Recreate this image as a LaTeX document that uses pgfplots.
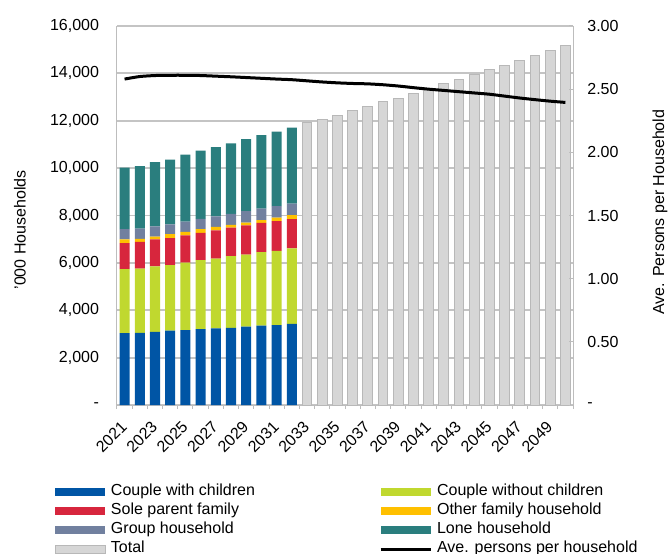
\documentclass[border=0pt]{standalone}
\usepackage{pgfplots}
\pgfplotsset{compat=1.18}
\usepackage{pgfplotstable}
\usepackage{fontspec}
\setmainfont{Liberation Sans}

\definecolor{cCwc}{HTML}{0055A5}
\definecolor{cCwo}{HTML}{C0D82F}
\definecolor{cSole}{HTML}{D7263D}
\definecolor{cOther}{HTML}{FFC000}
\definecolor{cGroup}{HTML}{71809F}
\definecolor{cLone}{HTML}{2A7E7E}
\definecolor{cTotal}{HTML}{D6D6D6}
\definecolor{cTotalEdge}{HTML}{B8B8B8}
\definecolor{cGrid}{HTML}{C4C4C4}
\definecolor{cAxis}{HTML}{BDBDBD}

% Households by type ('000), 2021 = 0
\pgfplotstableread{
x  cwc   cwo   sole  other group lone
0  3030  2710  1090  160   440   2590
1  3040  2720  1130  120   440   2630
2  3090  2760  1140  120   430   2710
3  3140  2770  1140  160   420   2730
4  3160  2850  1150  150   430   2830
5  3200  2920  1150  160   430   2880
6  3240  2940  1190  150   440   2930
7  3260  3030  1200  110   470   2980
8  3310  3040  1230  120   480   3040
9  3350  3100  1240  120   480   3100
10 3370  3140  1250  150   490   3140
11 3420  3190  1240  170   480   3210
}\households

% Projected total households ('000)
\pgfplotstableread{
x  total
12 11930
13 12040
14 12240
15 12430
16 12590
17 12800
18 12960
19 13140
20 13320
21 13570
22 13740
23 13960
24 14160
25 14320
26 14530
27 14750
28 14960
29 15190
}\totals

% Average persons per household
\pgfplotstableread{
x  ave
0  2.580
1  2.600
2  2.608
3  2.610
4  2.610
5  2.608
6  2.603
7  2.598
8  2.592
9  2.586
10 2.580
11 2.575
12 2.566
13 2.557
14 2.550
15 2.545
16 2.542
17 2.535
18 2.525
19 2.512
20 2.500
21 2.490
22 2.480
23 2.470
24 2.460
25 2.445
26 2.430
27 2.417
28 2.405
29 2.395
}\avepersons

\pgfplotsset{
  common/.style={
    scale only axis, width=342pt, height=284.25pt,
    xmin=-0.5, xmax=29.5,
    scaled y ticks=false,
    font=\fontsize{12}{14}\selectfont,
  },
}

\begin{document}
\begin{tikzpicture}
% stacked household types, left axis, legend
\begin{axis}[common,
  ybar stacked, bar width=0.66,
  ymin=0, ymax=16000,
  axis x line*=bottom, axis y line*=left,
  axis line style={cAxis, line width=0.75pt},
  xtick={0,2,...,28},
  xticklabels={2021,2023,2025,2027,2029,2031,2033,2035,2037,2039,2041,2043,2045,2047,2049},
  minor xtick={-0.5,0.5,...,29.5},
  major x tick style={draw=none},
  minor x tick style={cAxis, line width=0.75pt},
  minor tick length=3pt,
  xtick align=outside,
  xticklabel style={yshift=-7pt, xshift=-3.5pt, rotate=45, anchor=north east, inner sep=0pt},
  ytick={0,2000,...,16000},
  yticklabels={{-\hspace{7.5pt}},{2,000},{4,000},{6,000},{8,000},{10,000},{12,000},{14,000},{16,000}},
  ytick style={draw=none},
  yticklabel style={xshift=-10pt},
  ymajorgrids, grid style={cGrid, line width=1.4pt},
  ylabel={'000 Households},
  ylabel style={at={(rel axis cs:-0.2127,0.462)}, anchor=center},
  legend columns=2,
  legend cell align=left,
  legend image code/.code={\fill[#1] (0pt,-3pt) rectangle (37.5pt,3pt);},
  legend style={draw=none, fill=none, at={(-0.136,-0.2045)}, anchor=north west,
    inner sep=0pt, outer sep=0pt, row sep=0pt, column sep=3.75pt,
    /tikz/every even column/.append style={column sep=93pt},
    nodes={inner sep=0pt, text height=10pt, text depth=4.25pt}},
]
\addplot[fill=cCwc, draw=none] table[x=x, y=cwc]{\households};
\addlegendentry{Couple with children}
\addplot[fill=cCwo, draw=none] table[x=x, y=cwo]{\households};
\addlegendentry{Couple without children}
\addplot[fill=cSole, draw=none] table[x=x, y=sole]{\households};
\addlegendentry{Sole parent family}
\addplot[fill=cOther, draw=none] table[x=x, y=other]{\households};
\addlegendentry{Other family household}
\addplot[fill=cGroup, draw=none] table[x=x, y=group]{\households};
\addlegendentry{Group household}
\addplot[fill=cLone, draw=none] table[x=x, y=lone]{\households};
\addlegendentry{Lone household}
\addlegendimage{fill=cTotal, draw=cTotalEdge, line width=0.75pt}
\addlegendentry{Total}
\addlegendimage{legend image code/.code={\draw[black, line width=2.25pt] (0pt,0pt) -- (37.5pt,0pt);}}
\addlegendentry{Ave. persons per household}
\end{axis}

% projected totals
\begin{axis}[common, ybar, bar width=0.64, ymin=0, ymax=16000, hide axis]
\addplot[fill=cTotal, draw=cTotalEdge, line width=0.75pt] table[x=x, y=total]{\totals};
\end{axis}

% average persons per household, right axis
\begin{axis}[common,
  ymin=0, ymax=3,
  axis x line=none, axis y line*=right,
  axis line style={cAxis, line width=0.75pt},
  ytick={0,0.5,...,3},
  yticklabels={-,0.50,1.00,1.50,2.00,2.50,3.00},
  ytick style={cAxis, line width=0.75pt},
  major tick length=3pt,
  yticklabel style={xshift=7.25pt},
  ylabel={Ave. Persons per Household},
  ylabel style={at={(rel axis cs:1.1908,0.509)}, anchor=center},
]
\addplot[black, line width=2.25pt, mark=none, smooth, tension=0.4] table[x=x, y=ave]{\avepersons};
\end{axis}

\pgfresetboundingbox
\path[use as bounding box] (-87.75pt,-111.75pt) rectangle (416.25pt,303.75pt);
\end{tikzpicture}
\end{document}
